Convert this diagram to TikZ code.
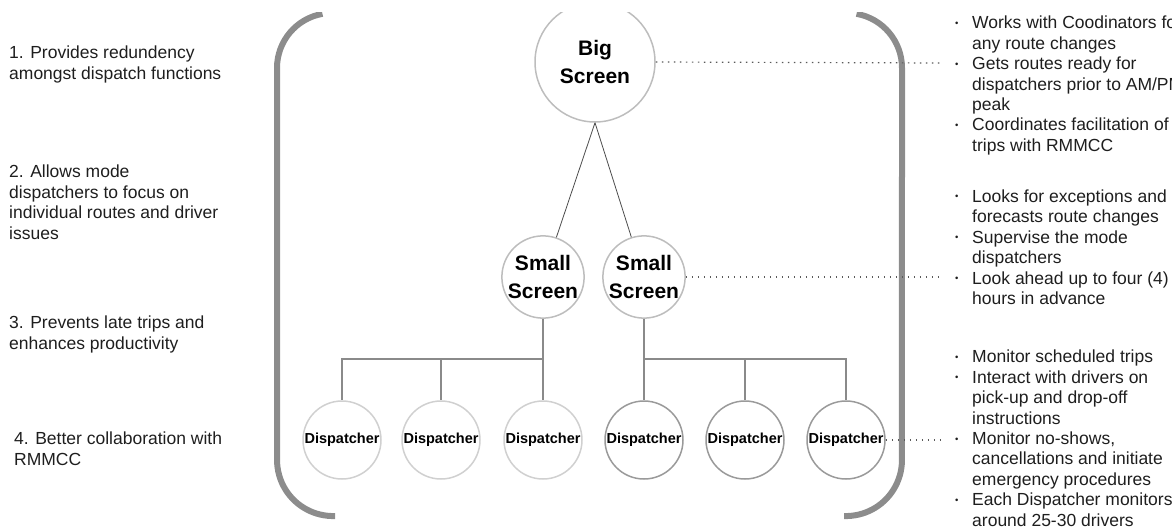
\documentclass[tikz,border=0pt]{standalone}
\usepackage{fontspec}
\setmainfont{Liberation Sans}
\usetikzlibrary{positioning}

\definecolor{bracketgray}{HTML}{8C8C8C}
\definecolor{ringgray}{HTML}{BDBDBD}
\definecolor{palering}{HTML}{D0D0D0}
\definecolor{darkring}{HTML}{9A9A9A}
\definecolor{linkgray}{HTML}{8A8A8A}
\definecolor{inkgray}{HTML}{1E1E1E}

\tikzset{
  bracket/.style={draw=bracketgray, line width=6pt, line cap=butt},
  bigscr/.style={circle, draw=ringgray, line width=1.5pt, minimum size=120pt,
    inner sep=0pt, align=center, font=\bfseries\fontsize{21}{28}\selectfont},
  smallscr/.style={bigscr, minimum size=79pt},
  displ/.style={circle, draw=palering, line width=1.5pt, minimum size=78pt,
    inner sep=0pt, font=\bfseries\fontsize{14.5}{16}\selectfont},
  dispr/.style={displ, draw=darkring},
  feed/.style={draw=black!70, line width=0.8pt},
  branch/.style={draw=linkgray, line width=1.3pt},
  leader/.style={draw=black!65, line width=1.2pt, dash pattern=on 1.5pt off 4.5pt},
  note/.style={inner sep=0pt, anchor=north west, text=inkgray,
    font=\fontsize{17.5}{20.4}\selectfont}
}

% Bullet and hanging indent for the duty lists
\newcommand{\bul}{\makebox[17pt][l]{\raisebox{2.5pt}{\fontsize{9.5}{9.5}\selectfont\textbullet}}}
\newcommand{\ind}{\hspace*{17pt}}

\begin{document}
\begin{tikzpicture}[x=1pt,y=-1pt]

  % Fix the canvas to the size of the slide
  \useasboundingbox (0,0) rectangle (1172,529);
  \clip (0,0) rectangle (1172,529);

  \begin{scope}
    % The slide is cut just above the frame
    \clip (0,13) rectangle (1172,529);

    % Left and right brackets of the frame
    \draw[bracket] (335,516) arc (88:180:56) -- (277,68) arc (180:260:55);
    \draw[bracket] (844,516) arc (92:0:56) -- (902,68) arc (0:-80:55);

    % Top level
    \node[bigscr] (big) at (595,62) {Big\\Screen};
  \end{scope}

  % Second level
  \node[smallscr] (sl) at (543,277) {Small\\Screen};
  \node[smallscr] (sr) at (644,277) {Small\\Screen};

  % Dispatchers
  \node[displ] (d1) at (342,440) {Dispatcher};
  \node[displ] (d2) at (441,440) {Dispatcher};
  \node[displ] (d3) at (543,440) {Dispatcher};
  \node[dispr] (d4) at (644,440) {Dispatcher};
  \node[dispr] (d5) at (745,440) {Dispatcher};
  \node[dispr] (d6) at (846,440) {Dispatcher};

  % Links between the levels
  \draw[feed] (big.south) -- (sl);
  \draw[feed] (big.south) -- (sr);

  \coordinate (bus) at (0,359);
  \draw[branch] (sl.south) -- (sl.south |- bus) -| (d1.north);
  \draw[branch] (sl.south |- bus) -| (d2.north);
  \draw[branch] (sl.south |- bus) -- (d3.north);
  \draw[branch] (sr.south) -- (sr.south |- bus) -| (d6.north);
  \draw[branch] (sr.south |- bus) -| (d5.north);
  \draw[branch] (sr.south |- bus) -- (d4.north);

  % Dotted leaders to the duty lists
  \coordinate (bigtip) at (941,63);
  \coordinate (smalltip) at (941,277);
  \coordinate (disptip) at (941,440);
  \draw[leader] (big.east) -- (bigtip);
  \draw[leader] (sr.east) -- (smalltip);
  \draw[leader] (d6.east) -- (disptip);

  % Benefits on the left
  \node[note] (b1) at (9,44.5) {\begin{tabular}{@{}l@{}}
    1. Provides redundency\\
    amongst dispatch functions
  \end{tabular}};
  \node[note] (b2) at (9,163.5) {\begin{tabular}{@{}l@{}}
    2. Allows mode\\
    dispatchers to focus on\\
    individual routes and driver\\
    issues
  \end{tabular}};
  \node[note] (b3) at (9,314.5) {\begin{tabular}{@{}l@{}}
    3. Prevents late trips and\\
    enhances productivity
  \end{tabular}};
  \node[note] (b4) at (14,430.5) {\begin{tabular}{@{}l@{}}
    4. Better collaboration with\\
    RMMCC
  \end{tabular}};

  % Duties on the right
  \node[note] (t1) at (955,14.5) {\begin{tabular}{@{}l@{}}
    \bul Works with Coodinators for\\
    \ind any route changes\\
    \bul Gets routes ready for\\
    \ind dispatchers prior to AM/PM\\
    \ind peak\\
    \bul Coordinates facilitation of\\
    \ind trips with RMMCC
  \end{tabular}};
  \node[note] (t2) at (955,188) {\begin{tabular}{@{}l@{}}
    \bul Looks for exceptions and\\
    \ind forecasts route changes\\
    \bul Supervise the mode\\
    \ind dispatchers\\
    \bul Look ahead up to four (4)\\
    \ind hours in advance
  \end{tabular}};
  \node[note] (t3) at (955,348.5) {\begin{tabular}{@{}l@{}}
    \bul Monitor scheduled trips\\
    \bul Interact with drivers on\\
    \ind pick-up and drop-off\\
    \ind instructions\\
    \bul Monitor no-shows,\\
    \ind cancellations and initiate\\
    \ind emergency procedures\\
    \bul Each Dispatcher monitors\\
    \ind around 25-30 drivers
  \end{tabular}};

\end{tikzpicture}
\end{document}
